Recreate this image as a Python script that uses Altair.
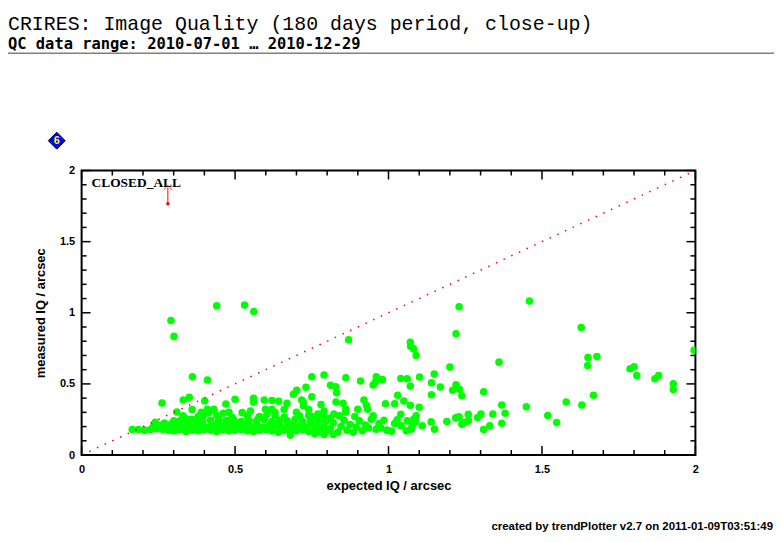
import altair as alt
import pandas as pd

TITLE = "CRIRES: Image Quality (180 days period, close-up)"
SUBTITLE = "QC data range: 2010-07-01 … 2010-12-29"
FOOTER = "created by trendPlotter v2.7 on 2011-01-09T03:51:49"
GREEN = "#00ff00"

# plot area in px (page 82..699 x 170..456)
W, H = 617, 286

# scattered points (expected IQ, measured IQ)
sparse_x = [
    0.291, 0.301, 0.440, 0.531, 0.561, 0.361, 0.410, 0.262, 0.310, 0.331,
    0.351, 0.401, 0.431, 0.470, 0.462, 0.500, 0.523, 0.560, 0.560, 0.595,
    0.620, 0.642, 0.669, 0.690, 0.701, 0.731, 0.750, 0.790, 0.811, 0.828,
    0.831, 0.829, 0.780, 0.717, 0.723, 0.750, 0.770, 0.750, 0.822, 0.680,
    0.861, 0.909, 0.960, 0.950, 0.958, 0.980, 1.040, 1.061, 1.101, 1.071,
    0.870, 1.459, 1.230, 1.220, 1.628, 1.071, 1.072, 1.082, 1.090, 1.996,
    1.360, 1.200, 1.650, 1.679, 1.649, 1.787, 1.800, 1.809, 1.868, 1.880,
    1.928, 1.928, 1.668, 1.630, 1.579, 1.449, 1.519, 1.548, 1.380, 1.369,
    1.369, 1.340, 1.330, 1.310, 1.301, 1.290, 1.310, 1.260, 1.260, 1.247,
    1.239, 1.230, 1.219, 1.190, 1.150, 1.139, 1.110, 1.239, 1.231, 1.220,
    1.209, 1.169, 1.149, 1.140, 1.140, 1.100, 1.090, 1.082, 1.071, 1.050,
    1.030, 1.040, 1.020, 0.990, 1.010, 1.061, 1.058, 1.077, 1.088, 1.028,
    1.020, 0.852, 0.861, 0.861, 0.920, 0.928, 0.932, 0.900, 0.950, 0.944,
    0.969, 0.960, 0.935, 0.723, 1.041, 1.074, 0.410, 0.599, 0.620, 0.334,
    0.355, 0.383, 0.399, 0.415, 0.447, 0.480, 0.501, 0.545, 0.577, 0.604,
]
sparse_y = [
    0.946, 0.834, 1.049, 1.054, 1.009, 0.550, 0.527, 0.366, 0.303, 0.387,
    0.406, 0.380, 0.322, 0.359, 0.294, 0.392, 0.298, 0.399, 0.373, 0.387,
    0.383, 0.378, 0.364, 0.427, 0.455, 0.476, 0.550, 0.562, 0.490, 0.480,
    0.438, 0.373, 0.355, 0.387, 0.368, 0.410, 0.289, 0.270, 0.289, 0.140,
    0.543, 0.520, 0.550, 0.492, 0.515, 0.531, 0.538, 0.536, 0.548, 0.485,
    0.811, 1.082, 1.042, 0.853, 0.897, 0.792, 0.764, 0.746, 0.699, 0.737,
    0.653, 0.618, 0.685, 0.692, 0.629, 0.606, 0.620, 0.559, 0.536, 0.559,
    0.501, 0.461, 0.420, 0.352, 0.373, 0.340, 0.278, 0.228, 0.294, 0.352,
    0.224, 0.289, 0.205, 0.180, 0.289, 0.264, 0.445, 0.287, 0.240, 0.229,
    0.217, 0.268, 0.261, 0.236, 0.182, 0.233, 0.205, 0.417, 0.462, 0.494,
    0.455, 0.478, 0.569, 0.508, 0.424, 0.336, 0.275, 0.252, 0.350, 0.380,
    0.420, 0.287, 0.361, 0.361, 0.168, 0.240, 0.170, 0.205, 0.233, 0.247,
    0.222, 0.364, 0.322, 0.303, 0.387, 0.350, 0.322, 0.322, 0.275, 0.252,
    0.222, 0.182, 0.190, 0.345, 0.205, 0.182, 0.322, 0.322, 0.322, 0.264,
    0.252, 0.240, 0.287, 0.298, 0.252, 0.240, 0.228, 0.240, 0.264, 0.287,
]

# the dense band of good-seeing points near the bottom
band_x = [
    # lowest row
    0.30, 0.32, 0.34, 0.36, 0.38, 0.40, 0.42, 0.44, 0.46, 0.48, 0.50, 0.52, 0.54,
    0.56, 0.58, 0.60, 0.62, 0.64, 0.66, 0.68, 0.70, 0.72, 0.74, 0.76, 0.78, 0.80,
    # second row
    0.31, 0.33, 0.35, 0.37, 0.39, 0.41, 0.43, 0.45, 0.47, 0.49, 0.51, 0.53, 0.55,
    0.57, 0.59, 0.61, 0.63, 0.65, 0.67, 0.69, 0.71, 0.73, 0.75, 0.77, 0.79,
    # third row
    0.320, 0.345, 0.370, 0.395, 0.420, 0.445, 0.470, 0.495, 0.520, 0.545,
    0.570, 0.595, 0.620, 0.645, 0.670, 0.695, 0.720, 0.745, 0.770, 0.795,
    # fourth row
    0.33, 0.38, 0.44, 0.49, 0.54, 0.58, 0.63, 0.66, 0.71, 0.74, 0.79,
    # left tail
    0.165, 0.185, 0.205, 0.225, 0.245, 0.265, 0.285,
    0.235, 0.255, 0.275, 0.290, 0.240, 0.300, 0.270,
    # right part of the band
    0.810, 0.820, 0.835, 0.845, 0.855, 0.865, 0.875, 0.885, 0.895, 0.905, 0.915,
    0.925, 0.975, 0.985, 0.995, 0.810, 0.840, 0.890, 0.820, 0.760, 0.790,
    # upper fringe
    0.63, 0.66, 0.70, 0.74, 0.79, 0.55, 0.48, 0.39, 0.36,
]
band_y = [
    0.170, 0.180, 0.165, 0.175, 0.170, 0.180, 0.175, 0.165, 0.180, 0.170, 0.175, 0.180, 0.170,
    0.165, 0.175, 0.180, 0.170, 0.160, 0.175, 0.165, 0.170, 0.180, 0.165, 0.175, 0.160, 0.170,
    0.205, 0.195, 0.210, 0.200, 0.215, 0.195, 0.205, 0.210, 0.200, 0.195, 0.210, 0.205, 0.200,
    0.215, 0.195, 0.205, 0.210, 0.200, 0.195, 0.210, 0.205, 0.200, 0.215, 0.195, 0.200,
    0.240, 0.235, 0.250, 0.240, 0.245, 0.235, 0.240, 0.250, 0.235, 0.245,
    0.240, 0.250, 0.235, 0.245, 0.240, 0.250, 0.235, 0.245, 0.240, 0.235,
    0.275, 0.270, 0.280, 0.265, 0.275, 0.270, 0.280, 0.265, 0.275, 0.280, 0.270,
    0.180, 0.180, 0.175, 0.180, 0.185, 0.180, 0.175,
    0.205, 0.210, 0.200, 0.215, 0.230, 0.240, 0.225,
    0.185, 0.225, 0.160, 0.200, 0.245, 0.175, 0.215, 0.160, 0.195, 0.240, 0.170,
    0.210, 0.190, 0.245, 0.175, 0.260, 0.275, 0.270, 0.145, 0.150, 0.145,
    0.300, 0.320, 0.300, 0.320, 0.310, 0.310, 0.300, 0.300, 0.320,
]

# one-to-one reference line
diag_x = [0.0, 2.0]
diag_y = [0.0, 2.0]

# point beyond the top of the plot (marked with an arrow)
arrow_x = [0.281]
arrow_y = [1.767]
arrow_top = [1.88]

major_ticks = [0.0, 0.5, 1.0, 1.5, 2.0]
minor_ticks = [0.1, 0.2, 0.3, 0.4, 0.6, 0.7, 0.8, 0.9,
               1.1, 1.2, 1.3, 1.4, 1.6, 1.7, 1.8, 1.9]

LABEL_FONT = "Liberation Sans"

pts = pd.DataFrame({"expected": sparse_x + band_x, "measured": sparse_y + band_y})

xs = alt.Scale(domain=[0, 2], nice=False, zero=False)
ys = alt.Scale(domain=[0, 2], nice=False, zero=False)

xaxis = alt.Axis(
    values=major_ticks, format="~g", domain=False, ticks=False, grid=False,
    labelPadding=9, labelFont=LABEL_FONT, labelFontSize=11, labelFontWeight="bold",
    labelColor="black", labelFlush=False,
    title="expected IQ / arcsec", titleFont=LABEL_FONT, titleFontSize=13,
    titleFontWeight="bold", titleColor="black", titlePadding=5,
)
yaxis = alt.Axis(
    values=major_ticks, format="~g", domain=False, ticks=False, grid=False,
    labelPadding=7, labelFont=LABEL_FONT, labelFontSize=11, labelFontWeight="bold",
    labelColor="black", labelFlush=False,
    title="measured IQ / arcsec", titleFont=LABEL_FONT, titleFontSize=13,
    titleFontWeight="bold", titleColor="black", titlePadding=12,
)
X = alt.X("expected:Q", scale=xs, axis=xaxis)
Y = alt.Y("measured:Q", scale=ys, axis=yaxis)

points = alt.Chart(pts).mark_circle(size=58, color=GREEN, opacity=1, clip=True).encode(x=X, y=Y)

diag = alt.Chart(pd.DataFrame({"expected": diag_x, "measured": diag_y})).mark_line(
    color="red", strokeDash=[1.5, 7], strokeWidth=1.5
).encode(x=X, y=Y)

arrow_df = pd.DataFrame({"expected": arrow_x, "measured": arrow_y, "top": arrow_top})
arrow_line = alt.Chart(arrow_df).mark_rule(color="red", strokeWidth=1).encode(
    x=X, y=Y, y2="top:Q"
)
arrow_dot = alt.Chart(arrow_df).mark_circle(size=12, color="red", opacity=1).encode(x=X, y=Y)
arrow_head = alt.Chart(arrow_df).mark_point(
    shape="M-1,0.6L0,-0.6L1,0.6", filled=False, color="red", size=70, strokeWidth=1
).encode(x=X, y=alt.Y("top:Q", scale=ys, axis=yaxis))


def tick_layer(values, side, length):
    df = pd.DataFrame({"expected": values, "measured": values})
    base = alt.Chart(df).mark_rule(color="black", strokeWidth=1.5)
    if side == "bottom":
        return base.encode(x=X, y=alt.value(H), y2=alt.value(H - length))
    if side == "top":
        return base.encode(x=X, y=alt.value(0), y2=alt.value(length))
    if side == "left":
        return base.encode(y=Y, x=alt.value(0), x2=alt.value(length))
    return base.encode(y=Y, x=alt.value(W), x2=alt.value(W - length))


ticks = [tick_layer(minor_ticks, s, 5) for s in ("bottom", "top", "left", "right")]
ticks += [tick_layer(major_ticks, s, 9) for s in ("bottom", "top", "left", "right")]


def text_layer(label, x, y, size, font, weight="normal", align="left",
               color="black", baseline="alphabetic"):
    return alt.Chart(pd.DataFrame({"label": [label]})).mark_text(
        align=align, baseline=baseline, font=font, fontSize=size,
        fontWeight=weight, color=color,
    ).encode(x=alt.value(x), y=alt.value(y), text="label:N")


header_rule = alt.Chart(pd.DataFrame({"a": [0]})).mark_rule(
    color="#808080", strokeWidth=1.5
).encode(x=alt.value(-74), x2=alt.value(696), y=alt.value(-118))

badge = alt.Chart(pd.DataFrame({"a": [0]})).mark_point(
    shape="diamond", filled=True, fill="#0000ff", stroke="#000060",
    strokeWidth=1, size=290, opacity=1,
).encode(x=alt.value(-25), y=alt.value(-30))

annotations = [
    text_layer(TITLE, -74, -141, 20, "Liberation Mono"),
    text_layer(SUBTITLE, -74, -122, 15.5, "DejaVu Sans Mono", weight="bold"),
    header_rule,
    badge,
    text_layer("6", -25, -30, 11, LABEL_FONT, weight="bold", align="center",
               color="#ffff00", baseline="middle"),
    text_layer("CLOSED_ALL", 10, 17, 13.5, "Liberation Serif", weight="bold"),
    text_layer(FOOTER, 695, 361, 11.5, LABEL_FONT, weight="bold", align="right"),
]

chart = alt.layer(
    points, diag, arrow_line, arrow_dot, arrow_head, *ticks, *annotations
).properties(
    width=W, height=H,
    autosize=alt.AutoSizeParams(type="none"),
    padding={"left": 74, "top": 162, "right": 79, "bottom": 76},
    background="white",
).configure_view(stroke="black", strokeWidth=2)

chart.save("out.html", embed_options={"renderer": "svg", "actions": False})
